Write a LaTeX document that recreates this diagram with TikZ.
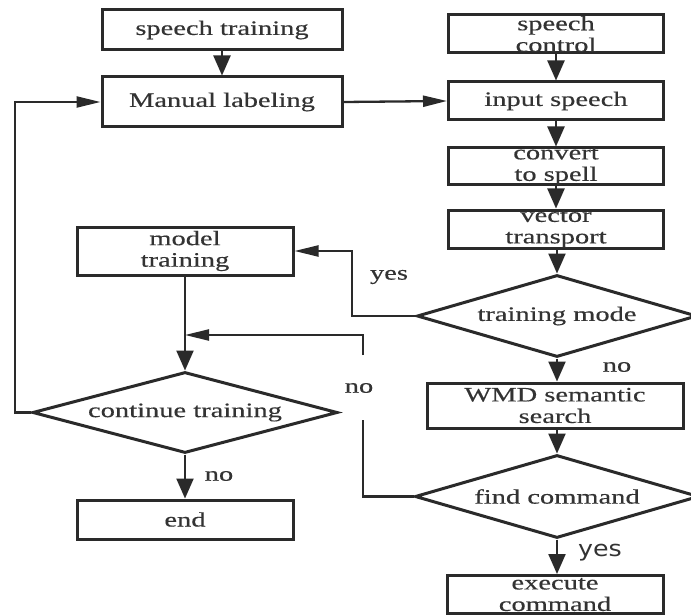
\documentclass[tikz,border=0pt]{standalone}
\usepackage{fontspec}
\setmainfont[FakeStretch=1.39,FakeBold=0.35]{Liberation Serif}
\newfontfamily\yesfont[FakeStretch=1.15]{DejaVu Sans}
\usetikzlibrary{shapes.geometric,arrows.meta}
\definecolor{ln}{HTML}{2A2A2A}
\definecolor{tx}{HTML}{333333}
\begin{document}
\begin{tikzpicture}[x=1pt,y=-1pt,
  txtfont/.style={font=\fontsize{20.5}{21.5}\selectfont},
  box/.style={draw=ln, line width=3pt, inner xsep=2pt, inner ysep=-5pt, align=center, text=tx, txtfont},
  dia/.style={diamond, draw=ln, line width=3pt, inner sep=0pt, aspect=3.5, text=tx, txtfont},
  conn/.style={draw=ln, line width=2.3pt},
  varr/.style={conn, -{Triangle[length=20pt,width=17pt]}},
  harr/.style={conn, -{Triangle[length=24pt,width=11pt]}},
  lab/.style={text=tx, txtfont, inner sep=0pt}
]
\useasboundingbox (0,0) rectangle (691,615);
\fill[white] (0,0) rectangle (691,615);
\clip (0,0) rectangle (691,615);

% left column
\node[box, minimum width=240pt, minimum height=40pt] (st) at (222,30) {speech training};
\node[box, minimum width=240pt, minimum height=50pt] (ml) at (222,102) {Manual labeling};
\node[box, minimum width=216pt, minimum height=48pt] (mt) at (185,251) {model\\training};
\node[dia, minimum width=305pt, minimum height=81pt] (ct) at (185,412.5) {continue training};
\node[box, minimum width=216pt, minimum height=39pt] (en) at (185,519.5) {end};

% right column
\node[box, minimum width=215pt, minimum height=38pt] (sc) at (556,34) {speech\\control};
\node[box, minimum width=215pt, minimum height=38pt] (is) at (556,101) {input speech};
\node[box, minimum width=215pt, minimum height=37pt] (cs) at (556,166.5) {convert\\to spell};
\node[box, minimum width=215pt, minimum height=38pt] (vt) at (556,229) {vector\\transport};
\node[dia, minimum width=280pt, minimum height=82pt] (tm) at (557,316) {training mode};
\node[box, minimum width=256pt, minimum height=45pt] (wmd) at (555,405.5) {WMD semantic\\search};
\node[dia, minimum width=284pt, minimum height=83pt] (fc) at (557,496.5) {find command};
\node[box, minimum width=216pt, minimum height=38pt] (ex) at (555,594.5) {execute\\command};

% labels
\node[lab] (ly1) at (389,277) {yes};
\node[lab] (ln1) at (617,367) {no};
\node[lab] (ln2) at (359,388) {no};
\node[lab] (ln3) at (219,476) {no};
\node[text=tx, inner sep=0pt, font=\yesfont\fontsize{22}{24}\selectfont] (ly2) at (600,553) {yes};

% coordinates
\coordinate (gapA) at (363,420);
\coordinate (gapB) at (363,355);
\coordinate (join) at (185,335);

% connectors
\draw[varr] (st.south) -- (ml.north);
\draw[harr] (ml.east) -- (is.west);
\draw[varr] (sc.south) -- (is.north);
\draw[varr] (is.south) -- (cs.north);
\draw[varr] (cs.south) -- (vt.north);
\draw[varr] (vt.south -| tm.north) -- (tm.north);
\draw[varr] (tm.south) -- (tm.south |- wmd.north);
\draw[varr] (wmd.south -| fc.north) -- (fc.north);
\draw[varr] (fc.south) -- (fc.south |- ex.north);
\draw[harr] (tm.west) -- (352,316) |- (mt.east);
\draw[conn] (fc.west) -| (gapA);
\draw[harr] (gapB) |- (join);
\draw[varr] (mt.south) -- (ct.north);
\draw[varr] (ct.south) -- (en.north);
\draw[harr] (ct.west) -- (15,412.5) |- (ml.west);
\end{tikzpicture}
\end{document}
